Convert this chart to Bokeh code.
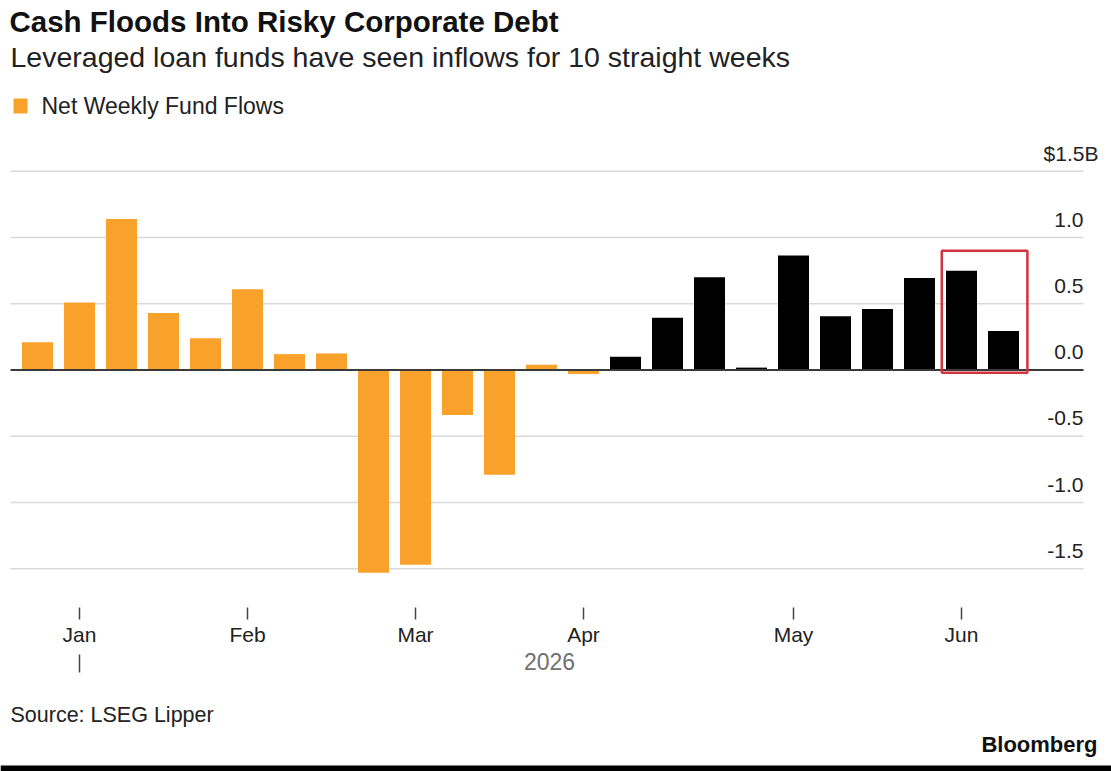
from bokeh.plotting import figure
from bokeh.models import Range1d, Label, ColumnDataSource
from bokeh.core.properties import value
from bokeh.embed import file_html
from bokeh.resources import INLINE

# ---------------- data ----------------
week_index = list(range(24))
net_flows = [0.21, 0.51, 1.14, 0.43, 0.24, 0.61, 0.12, 0.125, -1.53, -1.47,
             -0.34, -0.79, 0.04, -0.03, 0.10, 0.395, 0.70, 0.018, 0.865, 0.405,
             0.46, 0.695, 0.75, 0.295]
streak_start = 14  # first week of the 10-week inflow streak (drawn in black)
month_tick_index = [1, 5, 9, 13, 18, 22]
month_labels = ["Jan", "Feb", "Mar", "Apr", "May", "Jun"]
y_ticks = [1.5, 1.0, 0.5, 0.0, -0.5, -1.0, -1.5]
y_tick_labels = ["$1.5B", "1.0", "0.5", "0.0", "-0.5", "-1.0", "-1.5"]
highlight_weeks = [22, 23]
highlight_top = 0.90

# ---------------- layout helpers (pixel -> data) ----------------
W, H = 1111, 771
X_PX0, X_PX_STEP = 37.0, 42.0      # pixel centre of week 0, pixels per week
Y_PX0, Y_PX_UNIT = 369.5, 132.5    # pixel of zero line, pixels per $1B

def dx(px):
    return (px - X_PX0) / X_PX_STEP

def dy(py):
    return (Y_PX0 - py) / Y_PX_UNIT

ORANGE = "#F8A22C"
FONT = "Liberation Sans"

p = figure(width=W, height=H, output_backend="svg", toolbar_location=None,
           x_range=Range1d(dx(0), dx(W)), y_range=Range1d(dy(H), dy(0)),
           min_border=0, min_border_left=0, min_border_right=0,
           min_border_top=0, min_border_bottom=0)
p.axis.visible = False
p.grid.visible = False
p.outline_line_color = None
p.background_fill_color = "white"
p.border_fill_color = "white"

# gridlines
grid_x0, grid_x1 = dx(10), dx(1083)
grid_src = ColumnDataSource(dict(y=[t for t in y_ticks if t != 0.0]))
p.segment(x0=grid_x0, x1=grid_x1, y0="y", y1="y", source=grid_src,
          line_color="#d9d9d9", line_width=1.5)

# bars
colors = [ORANGE if i < streak_start else "black" for i in week_index]
bar_src = ColumnDataSource(dict(x=week_index, top=net_flows, color=colors))
p.vbar(x="x", top="top", bottom=0, width=31 / X_PX_STEP, source=bar_src,
       fill_color="color", line_color=None)

# zero line
p.segment(x0=[grid_x0], x1=[grid_x1], y0=[0.0], y1=[0.0],
          line_color="#3a3a3a", line_width=2)

# y labels (above gridlines, right-aligned)
lab_offsets = [15 if "B" in s else 0 for s in y_tick_labels]
ylab_src = ColumnDataSource(dict(x=[grid_x1] * len(y_ticks), y=y_ticks,
                                 t=y_tick_labels, xo=lab_offsets))
p.text(x="x", y="y", text="t", x_offset="xo", y_offset=-18, source=ylab_src,
       text_align="right", text_baseline="middle", text_font=value(FONT),
       text_font_size="21px", text_color="#222222")

# highlight box
hw = 31 / X_PX_STEP / 2
p.quad(left=min(highlight_weeks) - hw - 0.1, right=max(highlight_weeks) + hw + 0.2,
       bottom=-0.02, top=highlight_top, fill_color=None,
       line_color="#D2343F", line_width=2.5)

# x month ticks and labels
p.segment(x0=month_tick_index, x1=month_tick_index,
          y0=[dy(607)] * 6, y1=[dy(619)] * 6, line_color="#444444", line_width=1.5)
p.text(x=month_tick_index, y=[dy(634)] * 6, text=month_labels,
       text_align="center", text_baseline="middle", text_font=value(FONT),
       text_font_size="21px", text_color="#222222")
# year marker
p.segment(x0=[month_tick_index[0]], x1=[month_tick_index[0]],
          y0=[dy(654)], y1=[dy(672)], line_color="#444444", line_width=1.5)
p.text(x=[dx(549)], y=[dy(661)], text=["2026"], text_align="center",
       text_baseline="middle", text_font=value(FONT), text_font_size="23px",
       text_color="#707070")

# titles and notes (y = vertical centre in pixels)
def add_label(text, px, py, size, bold=False, color="#111111", align="left"):
    p.add_layout(Label(x=dx(px), y=dy(py), text=text, text_font=FONT,
                       text_font_size=size, text_color=color, text_align=align,
                       text_baseline="middle",
                       text_font_style="bold" if bold else "normal"))

add_label("Cash Floods Into Risky Corporate Debt", 9, 21, "29.5px", bold=True)
add_label("Leveraged loan funds have seen inflows for 10 straight weeks", 10, 56, "28.5px", color="#222222")
add_label("Net Weekly Fund Flows", 41, 105, "23px", color="#222222")
add_label("Source: LSEG Lipper", 10, 714, "21.5px", color="#222222")
add_label("Bloomberg", 1097, 744, "22px", bold=True, align="right")

# legend swatch
p.quad(left=[dx(13)], right=[dx(27)], bottom=[dy(113)], top=[dy(98)],
       fill_color=ORANGE, line_color=None)

# bottom black band
p.quad(left=[dx(0)], right=[dx(W)], bottom=[dy(H)], top=[dy(765)],
       fill_color="black", line_color=None)

open("out.html", "w").write(file_html(p, INLINE))
